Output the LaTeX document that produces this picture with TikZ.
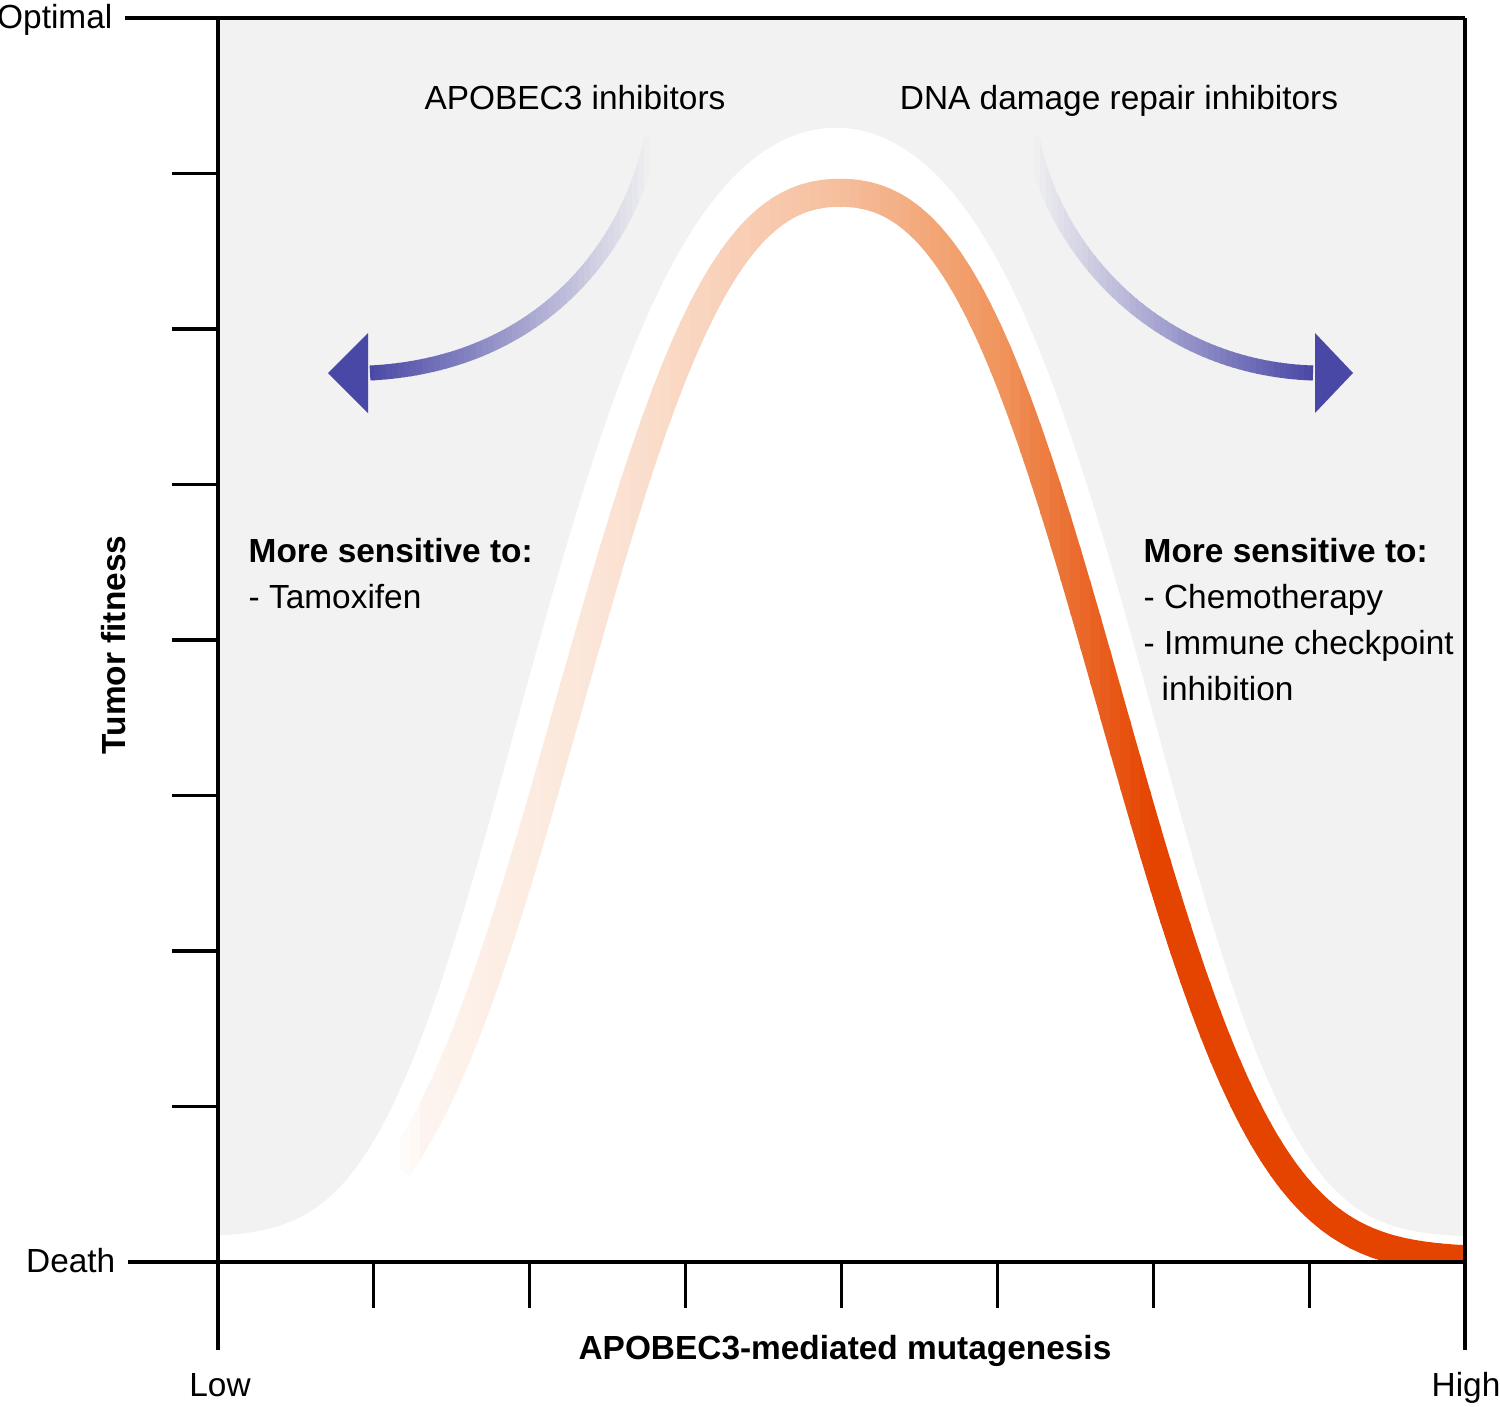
\documentclass[tikz,border=0pt]{standalone}
\usepackage{fontspec}
\setmainfont{Liberation Sans}
\usepackage{tikz}

\definecolor{panelgray}{RGB}{242,242,242}
\definecolor{tumorred}{RGB}{229,68,0}
\definecolor{peach}{RGB}{240,148,92}
\definecolor{drugblue}{RGB}{74,72,166}

% curves on the pixel grid (y downwards)
\def\fitness#1{1261-1068*exp(-1*((abs(#1-840)/560)^2+(abs(#1-840)/362.5)^3))}
\def\bell#1{1237-1109*exp(-1*((abs(#1-836)/502)^2+(abs(#1-836)/411)^4))}

\begin{document}
\begin{tikzpicture}[
  x={(0.01cm,0)}, y={(0,-0.01cm)},
  axisline/.style={draw=black, line width=0.9pt},
  lbl/.style={font=\fontsize{9.5}{13}\selectfont, inner sep=0pt},
  bold/.style={font=\fontsize{9.5}{13}\selectfont\bfseries, inner sep=0pt},
  curve/.style={line width=0.28cm, line join=round},
  shaft/.style={line width=0.15cm}
]
\useasboundingbox (0,0) rectangle (1500,1406);

% panel and white bell
\fill[panelgray] (218,18) rectangle (1465,1262);
\fill[white] plot[domain=218:1465, samples=200] (\x,{\bell{\x}})
  -- (1465,1262) -- (218,1262) -- cycle;

% fitness curve, shaded in strips: white -> peach -> red
\foreach \sx in {390,400,...,1460} {
  \pgfmathsetmacro\xm{\sx+5}
  \ifdim\xm pt<1000pt
    \pgfmathtruncatemacro\mix{100*(\xm<425 ? max(0,0.1*(\xm-395)/30) : (\xm<600 ? 0.1+(\xm-425)*0.15/175 : (\xm<835 ? 0.25+(\xm-600)*0.35/235 : 0.6+(\xm-835)*0.4/165)))}
    \colorlet{stripcol}{peach!\mix!white}
  \else
    \pgfmathtruncatemacro\mix{100*min(1,(\xm-1000)/150)}
    \colorlet{stripcol}{tumorred!\mix!peach}
  \fi
  \pgfmathsetmacro\lo{max(398,\sx-20)}
  \pgfmathsetmacro\hi{min(1465,\sx+30)}
  \begin{scope}
    \clip (\sx,18) rectangle (\sx+11,1262);
    \draw[curve, stripcol] plot[domain=\lo:\hi, samples=14] (\x,{\fitness{\x}});
  \end{scope}
}

% left arrow
\coordinate (ltop) at (652,138);
\coordinate (lend) at (370,373);
\foreach \sx in {368,374,...,662} {
  \pgfmathtruncatemacro\mix{100*max(0,min(1,(652-\sx)/284))}
  \begin{scope}
    \clip (\sx,100) rectangle (\sx+7,420);
    \draw[shaft, drugblue!\mix!panelgray] (ltop) .. controls (625,260) and (530,365) .. (lend);
  \end{scope}
}
\fill[drugblue] (328,373) -- (368,333) -- (368,413) -- cycle;

% right arrow
\coordinate (rtop) at (1032,138);
\coordinate (rend) at (1313,373);
\foreach \sx in {1022,1028,...,1316} {
  \pgfmathtruncatemacro\mix{100*max(0,min(1,(\sx+6-1032)/281))}
  \begin{scope}
    \clip (\sx,100) rectangle (\sx+7,420);
    \draw[shaft, drugblue!\mix!panelgray] (rtop) .. controls (1055,255) and (1160,368) .. (rend);
  \end{scope}
}
\fill[drugblue] (1353,373) -- (1315,333) -- (1315,413) -- cycle;

% axes and ticks
\draw[axisline] (125,18) -- (1465,18);
\draw[axisline] (218,18) -- (218,1350);
\draw[axisline] (1465,18) -- (1465,1350);
\draw[axisline] (128,1262) -- (1465,1262);
\foreach \k in {1,...,7} {
  \draw[axisline] (172,18+155.5*\k) -- (218,18+155.5*\k);
  \draw[axisline] (218+155.9*\k,1262) -- (218+155.9*\k,1308);
}

% labels
\node[lbl, anchor=base east] (optimal) at (113,28) {Optimal};
\node[lbl, anchor=base east] (death) at (116,1272) {Death};
\node[lbl, anchor=base] (low) at (220,1396) {Low};
\node[lbl, anchor=base] (high) at (1466,1396) {High};
\node[bold, anchor=base] (xlabel) at (845,1359) {APOBEC3-mediated mutagenesis};
\node[bold, rotate=90] (ylabel) at (114,645) {Tumor fitness};
\node[lbl, anchor=base] (apoinh) at (575,109) {APOBEC3 inhibitors};
\node[lbl, anchor=base] (ddrinh) at (1119,109) {DNA damage repair inhibitors};
\node[lbl, anchor=north west, align=left] (lowsens) at (248,538) {\textbf{More sensitive to:}\\- Tamoxifen};
\node[lbl, anchor=north west, align=left] (highsens) at (1143,538) {\textbf{More sensitive to:}\\- Chemotherapy\\- Immune checkpoint\\\hspace*{0.18cm}inhibition};
\end{tikzpicture}
\end{document}
